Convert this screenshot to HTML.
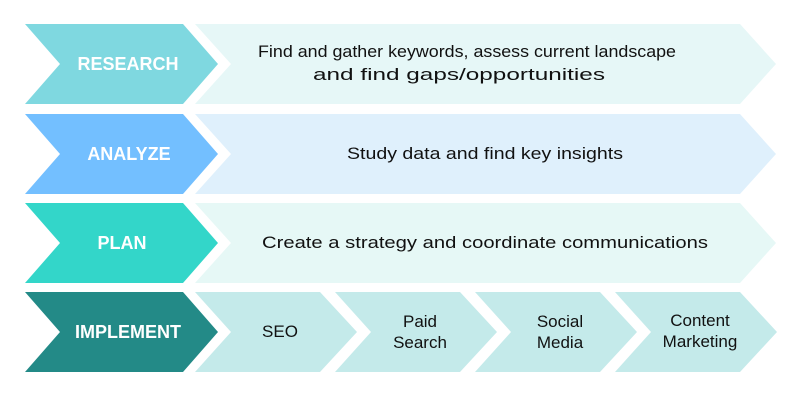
<!DOCTYPE html>
<html><head><style>body{margin:0;background:#fff}svg{display:block}</style></head><body>
<svg width="800" height="400" xmlns="http://www.w3.org/2000/svg" font-family="'Liberation Sans', sans-serif">
<g>
<polygon points="195,24 740,24 776,64 740,104 195,104 231,64" fill="#e6f7f7"/>
<polygon points="25,24 183,24 218,64 183,104 25,104 60,64" fill="#7fd8e0"/>
<text x="128" y="70" text-anchor="middle" fill="#fff" font-weight="bold" font-size="18">RESEARCH</text>
<text x="467" y="57" text-anchor="middle" font-size="17" textLength="418" lengthAdjust="spacingAndGlyphs" fill="#111">Find and gather keywords, assess current landscape</text>
<text x="459" y="80" text-anchor="middle" font-size="17" textLength="292" lengthAdjust="spacingAndGlyphs" fill="#111">and find gaps/opportunities</text>
</g>
<g>
<polygon points="195,114 740,114 776,154 740,194 195,194 231,154" fill="#dff0fc"/>
<polygon points="25,114 183,114 218,154 183,194 25,194 60,154" fill="#73bfff"/>
<text x="129" y="160" text-anchor="middle" fill="#fff" font-weight="bold" font-size="18">ANALYZE</text>
<text x="485" y="159" text-anchor="middle" font-size="17" textLength="276" lengthAdjust="spacingAndGlyphs" fill="#111">Study data and find key insights</text>
</g>
<g>
<polygon points="195,203 740,203 776,243 740,283 195,283 231,243" fill="#e6f8f6"/>
<polygon points="25,203 183,203 218,243 183,283 25,283 60,243" fill="#33d6c9"/>
<text x="122" y="249" text-anchor="middle" fill="#fff" font-weight="bold" font-size="18">PLAN</text>
<text x="485" y="248" text-anchor="middle" font-size="17" textLength="446" lengthAdjust="spacingAndGlyphs" fill="#111">Create a strategy and coordinate communications</text>
</g>
<g>
<polygon points="25,292 183,292 218,332 183,372 25,372 60,332" fill="#238a87"/>
<text x="128" y="338" text-anchor="middle" fill="#fff" font-weight="bold" font-size="18">IMPLEMENT</text>
<polygon points="195,292 320,292 357,332 320,372 195,372 231,332" fill="#c4eaea"/>
<polygon points="335,292 460,292 497,332 460,372 335,372 371,332" fill="#c4eaea"/>
<polygon points="475,292 600,292 637,332 600,372 475,372 511,332" fill="#c4eaea"/>
<polygon points="615,292 740,292 777,332 740,372 615,372 651,332" fill="#c4eaea"/>
<g font-size="17" fill="#111" text-anchor="middle">
<text x="280" y="337">SEO</text>
<text x="420" y="327">Paid</text><text x="420" y="348">Search</text>
<text x="560" y="327">Social</text><text x="560" y="348">Media</text>
<text x="700" y="326">Content</text><text x="700" y="347">Marketing</text>
</g>
</g>
</svg>
</body></html>
